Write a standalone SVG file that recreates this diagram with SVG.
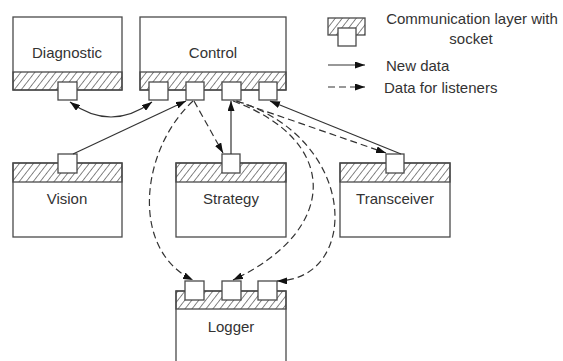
<svg xmlns="http://www.w3.org/2000/svg" width="563" height="361" viewBox="0 0 563 361">
<defs>
<pattern id="hatch" width="5.5" height="5.5" patternUnits="userSpaceOnUse" patternTransform="rotate(38)">
<line x1="0" y1="0" x2="0" y2="5.5" stroke="#222" stroke-width="1.1"/>
</pattern>
<marker id="arr" viewBox="0 0 10 7" refX="10" refY="3.5" markerWidth="10" markerHeight="7" markerUnits="userSpaceOnUse" orient="auto-start-reverse">
<path d="M0,0 L10,3.5 L0,7 z" fill="#111"/>
</marker>
<style>
.box{fill:#fff;stroke:#4a4a4a;stroke-width:1.3}
.hatch{fill:url(#hatch);stroke:#4a4a4a;stroke-width:1.3}
.sock{fill:#fff;stroke:#4a4a4a;stroke-width:1.3}
.lbl{font-family:"Liberation Sans",Arial,sans-serif;font-size:15px;fill:#333;text-anchor:middle}
.leg{font-family:"Liberation Sans",Arial,sans-serif;font-size:15px;fill:#333}
.solid{fill:none;stroke:#333;stroke-width:1.2;marker-end:url(#arr)}
.dash{fill:none;stroke:#333;stroke-width:1.2;stroke-dasharray:7 4;marker-end:url(#arr)}
</style>
</defs>
<rect width="563" height="361" fill="#fff"/>

<g id="diagnostic">
<rect class="box" x="13" y="17" width="109" height="73"/>
<rect class="hatch" x="13" y="72" width="109" height="18"/>
<rect class="sock" x="58" y="82" width="19" height="18"/>
<text class="lbl" x="67" y="58">Diagnostic</text>
</g>

<g id="control">
<rect class="box" x="140" y="17" width="146" height="73"/>
<rect class="hatch" x="140" y="72" width="146" height="18"/>
<rect class="sock" x="149" y="82" width="19" height="18"/>
<rect class="sock" x="186" y="82" width="18" height="18"/>
<rect class="sock" x="222" y="82" width="19" height="18"/>
<rect class="sock" x="259" y="82" width="18" height="18"/>
<text class="lbl" x="213" y="58">Control</text>
</g>

<g id="vision">
<rect class="box" x="13" y="163" width="109" height="74"/>
<rect class="hatch" x="13" y="163" width="109" height="19"/>
<rect class="sock" x="58" y="154" width="19" height="19"/>
<text class="lbl" x="67" y="204">Vision</text>
</g>

<g id="strategy">
<rect class="box" x="176" y="163" width="110" height="74"/>
<rect class="hatch" x="176" y="163" width="110" height="19"/>
<rect class="sock" x="222" y="154" width="18" height="19"/>
<text class="lbl" x="231" y="204">Strategy</text>
</g>

<g id="transceiver">
<rect class="box" x="340" y="163" width="110" height="74"/>
<rect class="hatch" x="340" y="163" width="110" height="19"/>
<rect class="sock" x="386" y="154" width="18" height="19"/>
<text class="lbl" x="395" y="204">Transceiver</text>
</g>

<g id="logger">
<rect class="box" x="176" y="291" width="110" height="74"/>
<rect class="hatch" x="176" y="291" width="110" height="18"/>
<rect class="sock" x="185" y="281" width="19" height="19"/>
<rect class="sock" x="222" y="281" width="19" height="19"/>
<rect class="sock" x="258" y="281" width="19" height="19"/>
<text class="lbl" x="231" y="332">Logger</text>
</g>

<g id="connectors">
<path class="solid" d="M70,102 Q111,132 152,102" marker-start="url(#arr)"/>
<path class="solid" d="M73,154 L186,101"/>
<path class="dash" d="M194,101 L223,153"/>
<path class="solid" d="M231,154 L231,101"/>
<path class="solid" d="M401,154 L270,101"/>
<path class="dash" d="M236,101 L386,153"/>
<path class="dash" d="M193,101 C140,150 130,250 193,280"/>
<path class="dash" d="M233,101 C340,140 340,230 233,280"/>
<path class="dash" d="M237,101 C360,140 360,280 277,281"/>
</g>

<g id="legend">
<rect class="hatch" x="328" y="18" width="37" height="17"/>
<rect class="sock" x="338" y="28" width="18" height="18"/>
<text class="lbl" x="472" y="24">Communication layer with</text>
<text class="lbl" x="471" y="44">socket</text>
<path class="solid" d="M328,65 L365,65"/>
<text class="leg" x="386" y="71">New data</text>
<path class="dash" d="M328,87 L365,87"/>
<text class="leg" x="384" y="93">Data for listeners</text>
</g>
</svg>
